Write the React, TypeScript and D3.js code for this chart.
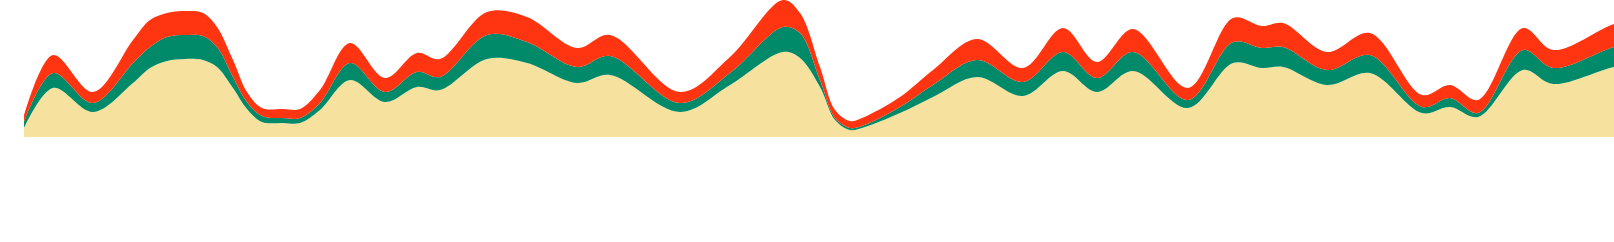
import React from "react";
import * as d3 from "d3";

// x positions (sample units) of the readings
const samples = [0, 29, 69, 109, 126, 143, 161, 179, 193, 209, 223, 238, 259, 276, 296, 326, 361, 393, 416, 463, 503, 553, 586, 656, 706, 759, 776, 796, 811, 826, 838, 876, 909, 953, 999, 1039, 1073, 1109, 1164, 1209, 1238, 1259, 1303, 1346, 1398, 1426, 1454, 1499, 1529, 1590, 1626];
const seriesBeige = [9, 49, 25, 54, 69, 76, 78, 77, 70, 49, 28, 15, 14, 14, 27, 57, 35, 50, 47, 78, 74, 54, 62, 25, 52, 85, 79, 50, 17, 7, 9, 24, 40, 60, 41, 66, 45, 66, 29, 74, 69, 70, 52, 64, 24, 30, 20, 67, 53, 70, 75];
const seriesGreen = [6, 15, 9, 20, 21, 24, 24, 24, 20, 11, 7, 6, 5, 5, 7, 17, 10, 15, 13, 24, 21, 16, 19, 9, 12, 25, 25, 7, 2, 2, 2, 6, 12, 17, 14, 19, 14, 19, 8, 21, 20, 20, 15, 18, 6, 9, 4, 20, 16, 20, 22];
const seriesRed = [6, 18, 11, 23, 27, 24, 24, 23, 20, 17, 10, 8, 9, 9, 13, 20, 14, 19, 18, 23, 25, 19, 21, 11, 16, 27, 20, 13, 8, 7, 8, 10, 15, 21, 14, 24, 16, 23, 12, 24, 22, 24, 18, 22, 12, 13, 13, 22, 18, 23, 25];

const keys = ["beige", "green", "red"];
const colors: Record<string, string> = { beige: "#f6e19e", green: "#008a69", red: "#ff3410" };

export default function App() {
  const W = 1614;
  const H = 242;
  const left = 24;
  const bottom = 137;

  const rows = samples.map((s, i) => ({ s, beige: seriesBeige[i], green: seriesGreen[i], red: seriesRed[i] }));
  const stacked = d3.stack<any>().keys(keys)(rows);

  const x = d3.scaleLinear().domain([0, 1590]).range([left, 1614]);
  const maxV = d3.max(stacked[stacked.length - 1], (d) => d[1]) as number;
  const y = d3.scaleLinear().domain([0, maxV]).range([bottom, 0]);

  const area = d3
    .area<any>()
    .x((d) => x(d.data.s))
    .y0((d) => y(d[0]))
    .y1((d) => y(d[1]))
    .curve(d3.curveCatmullRom.alpha(0.5));

  return (
    <>
      <style>{`body{margin:0;overflow:hidden}`}</style>
      <svg width={W} height={H} style={{ display: "block" }}>
        {stacked.map((layer) => (
          <path key={layer.key} d={area(layer) || ""} fill={colors[layer.key]} />
        ))}
      </svg>
    </>
  );
}
